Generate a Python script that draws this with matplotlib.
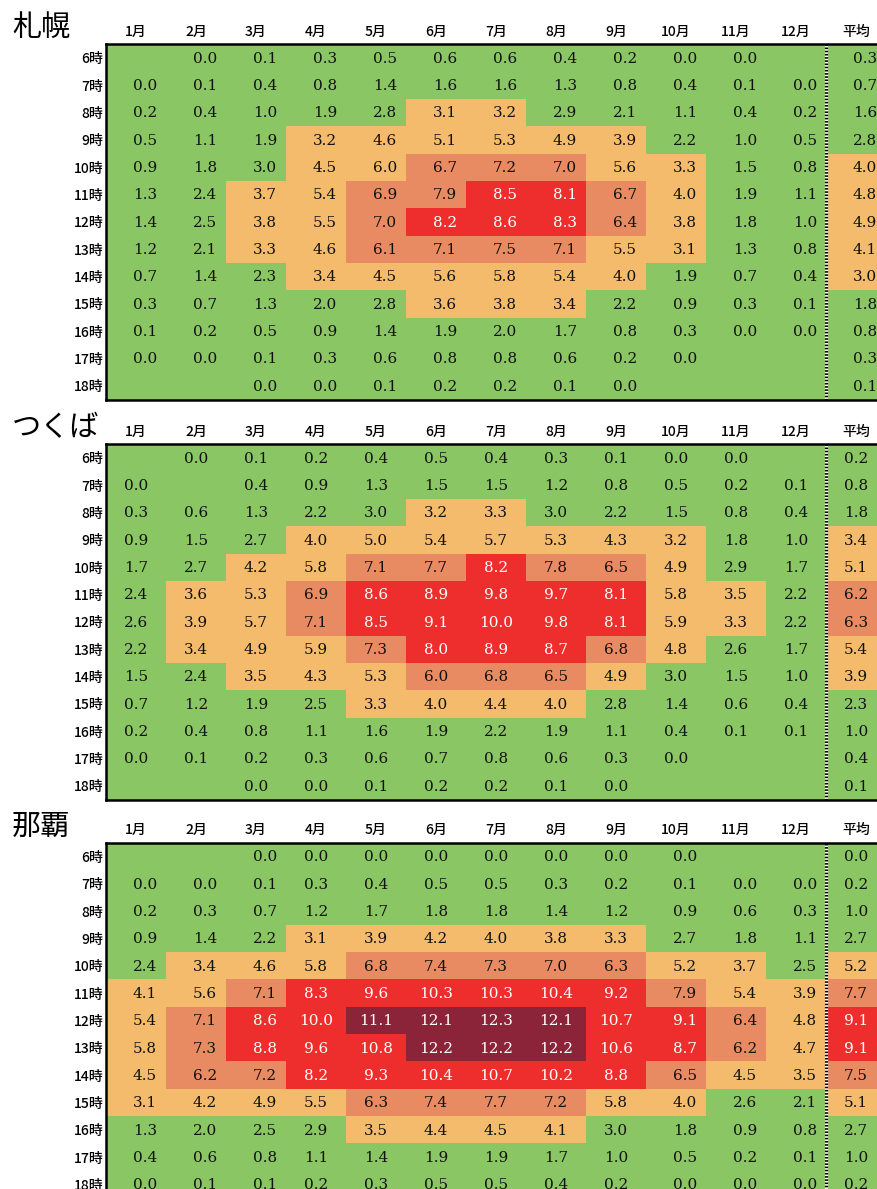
import numpy as np
import matplotlib
matplotlib.use("Agg")
import matplotlib.pyplot as plt
from matplotlib.colors import ListedColormap, BoundaryNorm

plt.rcParams['font.family'] = ['Noto Sans CJK JP', 'DejaVu Sans']

# 行・列ラベル
hours = ['6時', '7時', '8時', '9時', '10時', '11時', '12時', '13時', '14時', '15時', '16時', '17時', '18時']
months = ['1月', '2月', '3月', '4月', '5月', '6月', '7月', '8月', '9月', '10月', '11月', '12月', '平均']
cities = ['札幌', 'つくば', '那覇']

N = None
sapporo = [
    [N, 0.0, 0.1, 0.3, 0.5, 0.6, 0.6, 0.4, 0.2, 0.0, 0.0, N, 0.3],
    [0.0, 0.1, 0.4, 0.8, 1.4, 1.6, 1.6, 1.3, 0.8, 0.4, 0.1, 0.0, 0.7],
    [0.2, 0.4, 1.0, 1.9, 2.8, 3.1, 3.2, 2.9, 2.1, 1.1, 0.4, 0.2, 1.6],
    [0.5, 1.1, 1.9, 3.2, 4.6, 5.1, 5.3, 4.9, 3.9, 2.2, 1.0, 0.5, 2.8],
    [0.9, 1.8, 3.0, 4.5, 6.0, 6.7, 7.2, 7.0, 5.6, 3.3, 1.5, 0.8, 4.0],
    [1.3, 2.4, 3.7, 5.4, 6.9, 7.9, 8.5, 8.1, 6.7, 4.0, 1.9, 1.1, 4.8],
    [1.4, 2.5, 3.8, 5.5, 7.0, 8.2, 8.6, 8.3, 6.4, 3.8, 1.8, 1.0, 4.9],
    [1.2, 2.1, 3.3, 4.6, 6.1, 7.1, 7.5, 7.1, 5.5, 3.1, 1.3, 0.8, 4.1],
    [0.7, 1.4, 2.3, 3.4, 4.5, 5.6, 5.8, 5.4, 4.0, 1.9, 0.7, 0.4, 3.0],
    [0.3, 0.7, 1.3, 2.0, 2.8, 3.6, 3.8, 3.4, 2.2, 0.9, 0.3, 0.1, 1.8],
    [0.1, 0.2, 0.5, 0.9, 1.4, 1.9, 2.0, 1.7, 0.8, 0.3, 0.0, 0.0, 0.8],
    [0.0, 0.0, 0.1, 0.3, 0.6, 0.8, 0.8, 0.6, 0.2, 0.0, N, N, 0.3],
    [N, N, 0.0, 0.0, 0.1, 0.2, 0.2, 0.1, 0.0, N, N, N, 0.1],
]
tsukuba = [
    [N, 0.0, 0.1, 0.2, 0.4, 0.5, 0.4, 0.3, 0.1, 0.0, 0.0, N, 0.2],
    [0.0, N, 0.4, 0.9, 1.3, 1.5, 1.5, 1.2, 0.8, 0.5, 0.2, 0.1, 0.8],
    [0.3, 0.6, 1.3, 2.2, 3.0, 3.2, 3.3, 3.0, 2.2, 1.5, 0.8, 0.4, 1.8],
    [0.9, 1.5, 2.7, 4.0, 5.0, 5.4, 5.7, 5.3, 4.3, 3.2, 1.8, 1.0, 3.4],
    [1.7, 2.7, 4.2, 5.8, 7.1, 7.7, 8.2, 7.8, 6.5, 4.9, 2.9, 1.7, 5.1],
    [2.4, 3.6, 5.3, 6.9, 8.6, 8.9, 9.8, 9.7, 8.1, 5.8, 3.5, 2.2, 6.2],
    [2.6, 3.9, 5.7, 7.1, 8.5, 9.1, 10.0, 9.8, 8.1, 5.9, 3.3, 2.2, 6.3],
    [2.2, 3.4, 4.9, 5.9, 7.3, 8.0, 8.9, 8.7, 6.8, 4.8, 2.6, 1.7, 5.4],
    [1.5, 2.4, 3.5, 4.3, 5.3, 6.0, 6.8, 6.5, 4.9, 3.0, 1.5, 1.0, 3.9],
    [0.7, 1.2, 1.9, 2.5, 3.3, 4.0, 4.4, 4.0, 2.8, 1.4, 0.6, 0.4, 2.3],
    [0.2, 0.4, 0.8, 1.1, 1.6, 1.9, 2.2, 1.9, 1.1, 0.4, 0.1, 0.1, 1.0],
    [0.0, 0.1, 0.2, 0.3, 0.6, 0.7, 0.8, 0.6, 0.3, 0.0, N, N, 0.4],
    [N, N, 0.0, 0.0, 0.1, 0.2, 0.2, 0.1, 0.0, N, N, N, 0.1],
]
naha = [
    [N, N, 0.0, 0.0, 0.0, 0.0, 0.0, 0.0, 0.0, 0.0, N, N, 0.0],
    [0.0, 0.0, 0.1, 0.3, 0.4, 0.5, 0.5, 0.3, 0.2, 0.1, 0.0, 0.0, 0.2],
    [0.2, 0.3, 0.7, 1.2, 1.7, 1.8, 1.8, 1.4, 1.2, 0.9, 0.6, 0.3, 1.0],
    [0.9, 1.4, 2.2, 3.1, 3.9, 4.2, 4.0, 3.8, 3.3, 2.7, 1.8, 1.1, 2.7],
    [2.4, 3.4, 4.6, 5.8, 6.8, 7.4, 7.3, 7.0, 6.3, 5.2, 3.7, 2.5, 5.2],
    [4.1, 5.6, 7.1, 8.3, 9.6, 10.3, 10.3, 10.4, 9.2, 7.9, 5.4, 3.9, 7.7],
    [5.4, 7.1, 8.6, 10.0, 11.1, 12.1, 12.3, 12.1, 10.7, 9.1, 6.4, 4.8, 9.1],
    [5.8, 7.3, 8.8, 9.6, 10.8, 12.2, 12.2, 12.2, 10.6, 8.7, 6.2, 4.7, 9.1],
    [4.5, 6.2, 7.2, 8.2, 9.3, 10.4, 10.7, 10.2, 8.8, 6.5, 4.5, 3.5, 7.5],
    [3.1, 4.2, 4.9, 5.5, 6.3, 7.4, 7.7, 7.2, 5.8, 4.0, 2.6, 2.1, 5.1],
    [1.3, 2.0, 2.5, 2.9, 3.5, 4.4, 4.5, 4.1, 3.0, 1.8, 0.9, 0.8, 2.7],
    [0.4, 0.6, 0.8, 1.1, 1.4, 1.9, 1.9, 1.7, 1.0, 0.5, 0.2, 0.1, 1.0],
    [0.0, 0.1, 0.1, 0.2, 0.3, 0.5, 0.5, 0.4, 0.2, 0.0, 0.0, 0.0, 0.2],
]

# 色の区分 (0:弱い 1:中程度 2:強い 3:非常に強い 4:極端に強い)
sapporo_lv = ['0000000000000', '0000000000000', '0000011000000', '0001111110000',
              '0001122211001', '0011223321001', '0011233321001', '0011222211001',
              '0001111110001', '0000011100000', '0000000000000', '0000000000000',
              '0000000000000']
tsukuba_lv = ['0000000000000', '0000000000000', '0000011000000', '0001111111001',
              '0011223221001', '0112333331102', '0112333331102', '0111233321001',
              '0011122210001', '0000111100000', '0000000000000', '0000000000000',
              '0000000000000']
naha_lv = ['0000000000000', '0000000000000', '0000000000000', '0001111110000',
           '0111222221101', '1123333332112', '1233444433213', '1233344433213',
           '1223333332112', '1111222211001', '0000111100000', '0000000000000',
           '0000000000000']

level_colors = ['#8AC663', '#F4BB6C', '#E98B62', '#EE2E2C', '#8B2439']
cmap = ListedColormap(level_colors)
norm = BoundaryNorm(np.arange(-0.5, 5.5, 1), cmap.N)

# 数値の寄せ方 (r:右寄せ c:中央)
align = ['rrrrrrrrrrrrr', 'ccccccccccccc', 'rrrccccccrrrc']

W, H = 877, 1189
fig = plt.figure(figsize=(W / 100, H / 100), dpi=100)

tops = [44.3, 444.3, 842.8]
row_h = 27.33
col_w = 60
left = 106
grid_h = row_h * len(hours)
grid_w = col_w * len(months)

for k, (city, vals, lv) in enumerate(zip(cities, [sapporo, tsukuba, naha],
                                         [sapporo_lv, tsukuba_lv, naha_lv])):
    top = tops[k]
    ax = fig.add_axes([left / W, 1 - (top + grid_h) / H, grid_w / W, grid_h / H])
    levels = np.array([[int(c) for c in s] for s in lv])
    ax.pcolormesh(np.arange(len(months) + 1), np.arange(len(hours) + 1), levels,
                  cmap=cmap, norm=norm)
    ax.set_xlim(0, len(months))
    ax.set_ylim(len(hours), 0)

    for i in range(len(hours)):
        for j in range(len(months)):
            v = vals[i][j]
            if v is None:
                continue
            tc = 'white' if levels[i, j] >= 3 else '#111111'
            if align[k][j] == 'r':
                x, ha = j + 1 - 9 / col_w, 'right'
            else:
                x, ha = j + 0.5, 'center'
            ax.text(x, i + 0.53, f'{v:.1f}', ha=ha, va='center', color=tc,
                    fontsize=11, family='DejaVu Serif')

    # 12月と平均の間の点線
    ax.axvline(12, color='white', lw=2.3)
    ax.axvline(12, color='black', lw=2.3, ls=(0, (0.5, 0.5)))

    ax.set_xticks(np.arange(len(months)) + 0.5)
    ax.set_xticklabels(months, fontsize=10, fontweight='medium')
    ax.xaxis.tick_top()
    ax.set_yticks(np.arange(len(hours)) + 0.5)
    ax.set_yticklabels(hours, fontsize=10, fontweight='medium')
    ax.tick_params(length=0)
    ax.tick_params(axis='x', pad=4)
    ax.tick_params(axis='y', pad=2)
    for s in ['left', 'top', 'bottom']:
        ax.spines[s].set_linewidth(1.8)
    ax.spines['right'].set_visible(False)

    ax.annotate(city, xy=(0, 1), xycoords='axes fraction', xytext=(-94, 16),
                textcoords='offset pixels', ha='left', va='center', fontsize=21)

fig.savefig('out.png', dpi=100)
